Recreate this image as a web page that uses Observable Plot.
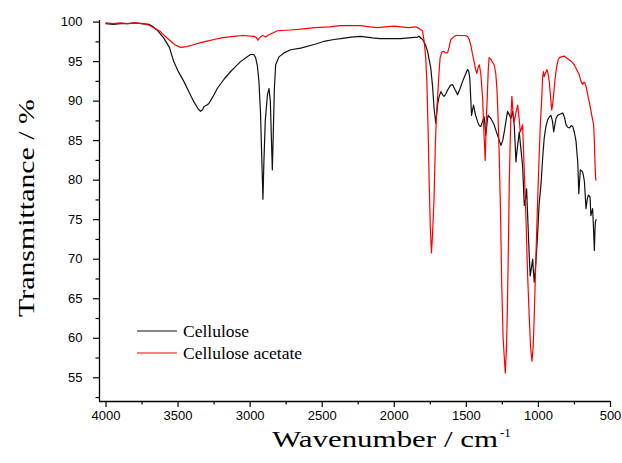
<!DOCTYPE html>
<html>
<head>
<meta charset="utf-8">
<script src="https://cdn.jsdelivr.net/npm/d3@7"></script>
<script src="https://cdn.jsdelivr.net/npm/@observablehq/plot@0.6"></script>
<style>
  html, body { margin: 0; padding: 0; background: #fff; }
  #chart { width: 622px; height: 463px; }
</style>
</head>
<body>
<div id="chart"></div>
<script>
// ---- Data ----
const seriesNames = ["Cellulose", "Cellulose acetate"];
const seriesColors = ["#111111", "#ff0000"];

const celluloseWn = [4000,3950,3900,3850,3800,3750,3700,3680,3640,3600,3560,3530,3500,3460,3420,3390,3360,3344,3330,3321,3300,3286,3260,3228,3180,3135,3100,3066,3030,2997,2975,2962,2950,2939,2928,2918,2911,2905,2895,2880,2869,2860,2852,2846,2840,2832,2823,2800,2765,2719,2649,2550,2480,2418,2372,2300,2233,2150,2100,2024,1955,1900,1839,1828,1804,1785,1769,1747,1735,1724,1712,1700,1690,1677,1665,1654,1640,1630,1610,1596,1580,1561,1545,1526,1510,1492,1484,1476,1464,1456,1450,1436,1422,1410,1399,1385,1376,1365,1355,1349,1330,1315,1307,1295,1280,1260,1248,1237,1225,1214,1200,1191,1179,1168,1160,1156,1150,1144,1133,1122,1110,1098,1090,1082,1071,1064,1057,1048,1040,1035,1029,1018,1005,995,982,971,960,948,936,925,913,903,894,886,878,866,855,843,831,820,808,797,785,773,762,750,739,733,727,720,714,709,700,693,687,681,675,670,662,654,648,642,636,630,624,618,612,608,605,600];
const celluloseT = [99.8,99.7,99.8,99.8,99.9,99.8,99.7,99.5,98.9,98.0,96.8,95.0,93.8,92.5,91.0,89.9,89.0,88.7,88.9,89.3,89.5,89.7,90.5,91.6,92.8,93.75,94.4,95.0,95.5,95.9,95.9,95.5,94.5,92.5,88.5,82.0,77.6,82.0,87.5,90.8,91.6,90.0,85.0,81.3,85.5,91.5,94.6,95.6,96.1,96.5,96.7,97.2,97.6,97.8,97.9,98.1,98.2,98.0,97.9,97.9,97.9,98.0,98.1,98.2,97.8,97.2,96.3,94.2,92.0,89.1,87.2,89.5,90.5,91.2,90.8,90.6,91.0,91.4,92.0,92.1,91.5,90.8,91.5,92.5,93.2,94.0,93.8,92.9,88.2,89.0,89.5,88.2,87.4,86.9,86.8,87.6,88.0,85.7,87.5,88.2,87.8,87.3,87.0,86.3,85.5,84.4,85.0,86.1,87.5,88.7,88.2,87.8,88.7,87.0,84.0,82.3,83.5,84.4,86.1,84.0,81.9,76.8,77.5,78.9,73.8,70.5,67.9,69.0,70.0,68.5,67.1,69.5,73.4,77.0,79.5,82.7,85.3,86.8,87.6,88.0,88.2,87.5,86.1,87.0,87.8,88.2,88.3,88.4,88.5,88.0,87.0,86.7,86.6,86.9,86.8,86.0,84.9,83.5,82.3,78.3,80.0,81.3,81.2,81.0,80.5,79.8,78.0,76.4,77.5,78.1,78.0,77.9,75.5,76.0,76.4,74.0,71.1,73.5,74.7,75.0];

const acetateWn = [4000,3950,3900,3850,3800,3750,3700,3660,3622,3590,3552,3520,3483,3440,3400,3344,3300,3250,3200,3113,3050,2974,2955,2946,2935,2915,2900,2892,2880,2869,2811,2719,2650,2550,2450,2372,2300,2233,2170,2116,2060,2002,1955,1900,1851,1828,1804,1793,1782,1774,1765,1758,1750,1742,1735,1728,1724,1715,1708,1700,1690,1682,1670,1658,1645,1630,1620,1608,1590,1573,1540,1510,1492,1480,1469,1458,1446,1436,1427,1418,1410,1400,1393,1387,1378,1369,1362,1356,1348,1342,1330,1318,1307,1296,1288,1280,1272,1262,1255,1245,1230,1222,1215,1208,1202,1195,1191,1184,1176,1168,1156,1144,1135,1126,1118,1110,1098,1087,1075,1064,1055,1045,1036,1029,1018,1005,995,987,978,971,965,960,952,941,933,925,916,908,902,897,891,885,878,871,863,855,840,821,800,785,770,751,735,716,705,693,684,677,665,655,647,638,630,622,617,612,607,603,600];
const acetateT = [99.9,99.8,99.9,99.8,99.9,99.8,99.6,99.2,98.8,98.2,97.6,97.1,96.8,96.9,97.1,97.4,97.6,97.8,98.0,98.2,98.3,98.2,98.0,97.7,98.0,98.3,98.2,98.1,98.3,98.4,98.9,99.0,99.1,99.3,99.4,99.55,99.55,99.55,99.4,99.3,99.4,99.5,99.4,99.3,99.4,99.2,98.9,97.6,95.5,92.5,86.0,79.8,74.0,70.8,73.0,76.0,77.7,84.5,88.0,90.4,93.5,95.5,96.2,96.3,96.1,96.1,96.8,97.8,98.1,98.3,98.3,98.3,98.2,97.8,97.1,96.0,95.0,94.0,93.5,94.3,94.6,93.5,91.8,90.4,86.0,82.5,87.5,90.0,94.0,95.5,95.3,94.9,94.6,93.5,91.6,88.0,83.2,75.0,67.1,60.0,55.6,58.5,64.0,72.0,79.8,85.5,88.2,90.6,88.5,87.4,88.5,89.5,88.0,86.1,86.5,87.0,81.0,75.5,68.0,62.8,59.0,57.1,59.0,62.8,70.0,77.7,83.0,87.0,90.0,93.0,93.75,93.1,93.5,94.0,93.5,92.5,90.5,88.9,89.5,90.4,91.5,92.7,93.8,94.6,95.2,95.5,95.6,95.7,95.4,95.2,95.0,94.6,94.0,93.3,92.5,92.1,92.4,92.3,91.5,90.5,89.9,89.0,88.2,87.5,87.0,85.0,82.0,80.2,80.0];

const xDomain = [4045, 500];
const yDomain = [52, 100.2];
const xMajorTicks = [4000,3500,3000,2500,2000,1500,1000,500];
const xMinorTicks = [3750,3250,2750,2250,1750,1250,750];
const yMajorTicks = [55,60,65,70,75,80,85,90,95,100];
const yMinorTicks = [52.5,57.5,62.5,67.5,72.5,77.5,82.5,87.5,92.5,97.5];

const xTitle = "Wavenumber / cm";
const xTitleSup = "-1";
const yTitle = "Transmittance / %";

// ---- Build table ----
const cellulose = celluloseWn.map((x, i) => ({x, y: celluloseT[i], s: seriesNames[0]}));
const acetate = acetateWn.map((x, i) => ({x, y: acetateT[i], s: seriesNames[1]}));

const W = 622, H = 463;
const mL = 99, mR = 12, mT = 20, mB = 62;

const tickFont = "'Liberation Sans', Arial, sans-serif";

const chart = Plot.plot({
  width: W,
  height: H,
  marginLeft: mL,
  marginRight: mR,
  marginTop: mT,
  marginBottom: mB,
  style: {background: "#fff", fontFamily: tickFont, fontSize: "13px", color: "#000", overflow: "visible"},
  x: {domain: xDomain, label: null},
  y: {domain: yDomain, label: null},
  marks: [
    Plot.axisX(xMajorTicks, {anchor: "bottom", tickSize: 6, tickPadding: 3, tickFormat: d => String(d), label: null, fontSize: 13, stroke: "#000", strokeWidth: 1.2}),
    Plot.axisX(xMinorTicks, {anchor: "bottom", tickSize: 3.5, tickFormat: () => "", label: null, stroke: "#000", strokeWidth: 1.2}),
    Plot.axisY(yMajorTicks, {anchor: "left", tickSize: 6, tickPadding: 11, tickFormat: d => String(d), label: null, fontSize: 13, stroke: "#000", strokeWidth: 1.2}),
    Plot.axisY(yMinorTicks, {anchor: "left", tickSize: 3.5, tickFormat: () => "", label: null, stroke: "#000", strokeWidth: 1.2}),
    Plot.ruleX([xDomain[0]], {stroke: "#000", strokeWidth: 1.3}),
    Plot.ruleY([yDomain[0]], {stroke: "#000", strokeWidth: 1.3}),
    Plot.line(cellulose, {x: "x", y: "y", stroke: seriesColors[0], strokeWidth: 1.2}),
    Plot.line(acetate, {x: "x", y: "y", stroke: seriesColors[1], strokeWidth: 1.2})
  ]
});

document.getElementById("chart").appendChild(chart);

// ---- Axis titles and legend (text) ----
const svg = d3.select(chart);
const serif = "'Liberation Serif', 'Times New Roman', serif";

svg.append("text")
  .attr("transform", `translate(34, 208) rotate(-90)`)
  .attr("text-anchor", "middle")
  .attr("font-family", serif)
  .attr("font-size", 23)
  .attr("textLength", 218)
  .attr("lengthAdjust", "spacingAndGlyphs")
  .attr("fill", "#000")
  .text(yTitle);

const xt = svg.append("text")
  .attr("x", 272)
  .attr("y", 447)
  .attr("text-anchor", "start")
  .attr("font-family", serif)
  .attr("font-size", 23)
  .attr("fill", "#000");
xt.append("tspan").attr("textLength", 226).attr("lengthAdjust", "spacingAndGlyphs").text(xTitle);
xt.append("tspan").attr("dx", 2).attr("dy", -10).attr("font-size", 13).text(xTitleSup);

const legend = svg.append("g");
seriesNames.forEach((name, i) => {
  const y = 331 + i * 22;
  legend.append("line")
    .attr("x1", 137).attr("x2", 177).attr("y1", y).attr("y2", y)
    .attr("stroke", seriesColors[i]).attr("stroke-width", 1.2);
  legend.append("text")
    .attr("x", 183).attr("y", y + 6)
    .attr("text-anchor", "start")
    .attr("font-family", serif).attr("font-size", 17.5)
    .attr("fill", "#000")
    .text(name);
});
</script>
</body>
</html>
